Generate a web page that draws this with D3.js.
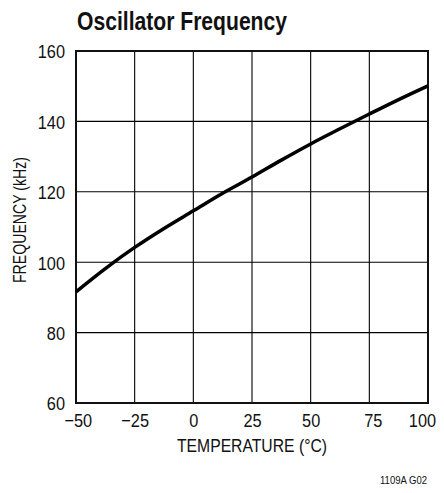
<!DOCTYPE html>
<html>
<head>
<meta charset="utf-8">
<script src="https://cdn.jsdelivr.net/npm/d3@7"></script>
<style>
  html, body { margin: 0; padding: 0; background: #fff; }
  svg { display: block; }
  text { font-family: "Liberation Sans", Arial, sans-serif; fill: #111; }
</style>
</head>
<body>
<svg id="chart" width="444" height="493"></svg>
<script>
// Data
const temperatures = [-50, -37.5, -25, -12.5, 0, 12.5, 25, 37.5, 50, 62.5, 75, 87.5, 100];
const frequencies  = [91.6, 98.2, 104.2, 109.6, 114.6, 119.6, 124.2, 129.0, 133.6, 137.9, 142.1, 146.2, 150.1];
const xTicks = [-50, -25, 0, 25, 50, 75, 100];
const yTicks = [60, 80, 100, 120, 140, 160];
const titleText = "Oscillator Frequency";
const xTitle = "TEMPERATURE (°C)";
const yTitle = "FREQUENCY (kHz)";
const noteText = "1109A G02";

(function () {
const svg = d3.select("#chart");
const pl = 76, pr = 428, pt = 51, pb = 403;
const narrow = 0.86;

const x = d3.scaleLinear().domain([-50, 100]).range([pl, pr]);
const y = d3.scaleLinear().domain([60, 160]).range([pb, pt]);

// Grid lines
svg.append("g").selectAll("line").data(xTicks.slice(1, -1)).join("line")
  .attr("x1", d => x(d)).attr("x2", d => x(d))
  .attr("y1", pt).attr("y2", pb)
  .attr("stroke", "#000").attr("stroke-width", 1.1);
svg.append("g").selectAll("line").data(yTicks.slice(1, -1)).join("line")
  .attr("y1", d => y(d)).attr("y2", d => y(d))
  .attr("x1", pl).attr("x2", pr)
  .attr("stroke", "#000").attr("stroke-width", 1.1);

// Frame
svg.append("rect").attr("x", pl).attr("y", pt)
  .attr("width", pr - pl).attr("height", pb - pt)
  .attr("fill", "none").attr("stroke", "#111").attr("stroke-width", 2);

// Axes (labels only)
const xAxis = d3.axisBottom(x).tickValues(xTicks).tickSize(0).tickPadding(0)
  .tickFormat(d => d < 0 ? "\u2212" + Math.abs(d) : String(d));
const gx = svg.append("g").attr("transform", `translate(0,${pb})`).call(xAxis);
gx.select(".domain").remove();
gx.selectAll("text").attr("font-size", 19).attr("dy", 0).attr("y", 24)
  .attr("font-family", null).attr("fill", "#111")
  .attr("transform", `scale(${narrow},1)`)
  .attr("dx", d => d === 100 ? -7 : (d === -50 ? 2 : (d === 75 ? 4 : 0)));

const yAxis = d3.axisLeft(y).tickValues(yTicks).tickSize(0).tickPadding(0);
const gy = svg.append("g").attr("transform", `translate(${pl - 11},0)`).call(yAxis);
gy.select(".domain").remove();
gy.selectAll("text").attr("font-size", 19).attr("font-family", null).attr("fill", "#111")
  .attr("transform", `scale(${narrow},1)`)
  .attr("dy", "0.36em");

// Curve
const line = d3.line().x((d, i) => x(temperatures[i])).y(d => y(d)).curve(d3.curveMonotoneX);
svg.append("path").datum(frequencies).attr("d", line)
  .attr("fill", "none").attr("stroke", "#000").attr("stroke-width", 3.5)
  .attr("stroke-linecap", "butt");

// Titles
svg.append("text").attr("x", 77).attr("y", 30).attr("font-size", 25).attr("font-weight", "bold")
  .attr("textLength", 210).attr("lengthAdjust", "spacingAndGlyphs")
  .text(titleText);
svg.append("text").attr("x", 252).attr("y", 452).attr("text-anchor", "middle")
  .attr("font-size", 19).attr("textLength", 150).attr("lengthAdjust", "spacingAndGlyphs")
  .text(xTitle);
svg.append("text").attr("transform", `translate(26,220) rotate(-90)`)
  .attr("text-anchor", "middle").attr("font-size", 18)
  .attr("textLength", 126).attr("lengthAdjust", "spacingAndGlyphs").text(yTitle);
svg.append("text").attr("x", 427).attr("y", 484).attr("text-anchor", "end")
  .attr("font-size", 10).attr("textLength", 47).attr("lengthAdjust", "spacingAndGlyphs")
  .text(noteText);
})();
</script>
</body>
</html>
